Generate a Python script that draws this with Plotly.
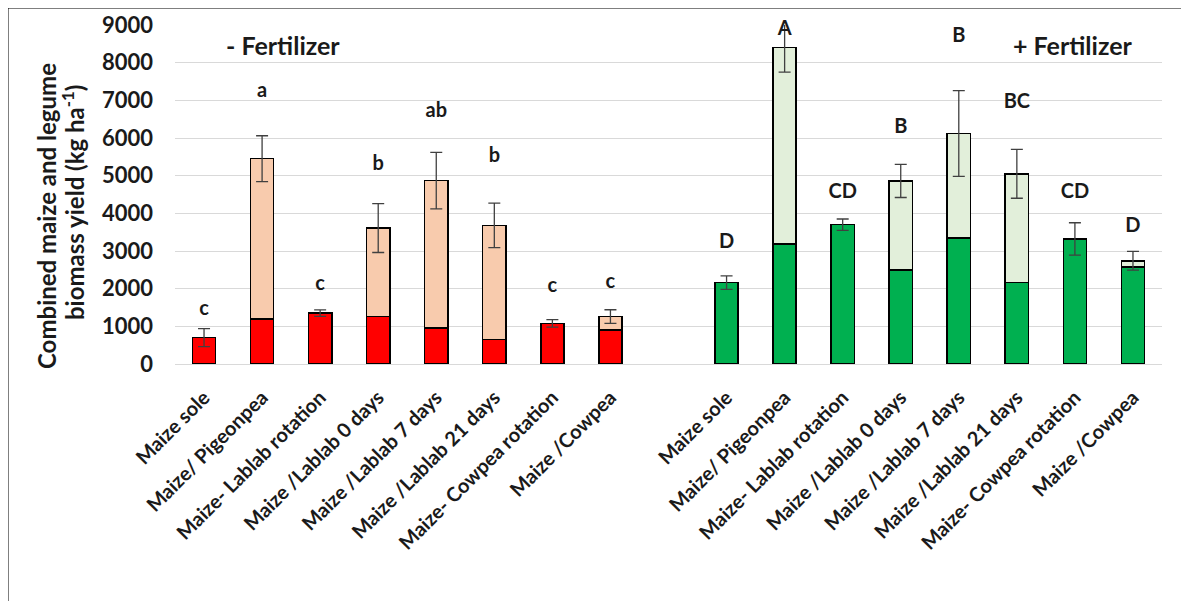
import plotly.graph_objects as go

treatments = ["Maize sole", "Maize/ Pigeonpea", "Maize- Lablab rotation", "Maize /Lablab 0 days",
              "Maize /Lablab 7 days", "Maize /Lablab 21 days", "Maize- Cowpea rotation", "Maize /Cowpea"]

# - Fertilizer
maize_nf = [700, 1190, 1350, 1260, 950, 650, 1080, 900]
legume_nf = [0, 4260, 0, 2350, 3920, 3030, 0, 360]
err_nf = [240, 610, 85, 650, 750, 590, 100, 180]
letters_nf = ["c", "a", "c", "b", "ab", "b", "c", "c"]
letter_y_nf = [1430, 7230, 2100, 5280, 6700, 5500, 2040, 2140]

# + Fertilizer
maize_f = [2160, 3180, 3700, 2500, 3350, 2160, 3320, 2580]
legume_f = [0, 5220, 0, 2360, 2770, 2890, 0, 160]
err_f = [180, 650, 150, 440, 1140, 650, 430, 250]
letters_f = ["D", "A", "CD", "B", "B", "BC", "CD", "D"]
letter_y_f = [3200, 8870, 4530, 6270, 8670, 6940, 4530, 3640]

y_ticks = [0, 1000, 2000, 3000, 4000, 5000, 6000, 7000, 8000, 9000]

x_nf = list(range(len(treatments)))
x_f = [len(treatments) + 1 + i for i in range(len(treatments))]

FONT = "Lato"
OFF = 8  # page body margin
W, H = 1189, 601
ML = 175 - OFF
MT = 25 - OFF
pw, ph = 987, 339
MR = W - ML - pw
MB = H - MT - ph


def px_x(p):
    return (p - OFF - ML) / pw


def px_y(p):
    return (MT + ph - (p - OFF)) / ph


fig = go.Figure()
bar_w = 0.4
line = dict(color="black", width=1.5)

fig.add_trace(go.Bar(x=x_nf, y=maize_nf, width=bar_w, marker=dict(color="#FF0000", line=line), showlegend=False))
fig.add_trace(go.Bar(x=x_nf, y=legume_nf, width=bar_w, marker=dict(color="#F8CBAD", line=line), showlegend=False))
fig.add_trace(go.Bar(x=x_f, y=maize_f, width=bar_w, marker=dict(color="#00B050", line=line), showlegend=False))
fig.add_trace(go.Bar(x=x_f, y=legume_f, width=bar_w, marker=dict(color="#E2EFDA", line=line), showlegend=False))

tot_nf = [m + l for m, l in zip(maize_nf, legume_nf)]
tot_f = [m + l for m, l in zip(maize_f, legume_f)]

for xs, ys, es in [(x_nf, tot_nf, err_nf), (x_f, tot_f, err_f)]:
    fig.add_trace(go.Scatter(
        x=xs, y=ys, mode="markers", marker=dict(size=1, color="rgba(0,0,0,0)"),
        error_y=dict(type="data", array=es, visible=True, color="#404040", thickness=1.3, width=6),
        cliponaxis=False, showlegend=False, hoverinfo="skip"))

for xs, ys, ts in [(x_nf, letter_y_nf, letters_nf), (x_f, letter_y_f, letters_f)]:
    fig.add_trace(go.Scatter(
        x=xs, y=ys, mode="text", text=ts,
        textfont=dict(family=FONT, size=20, color="#1a1a1a", weight="bold"),
        textposition="middle center", cliponaxis=False, showlegend=False, hoverinfo="skip"))

title_font = dict(family=FONT, size=24, weight="bold", color="#1a1a1a")

fig.update_layout(
    barmode="stack",
    width=W, height=H,
    margin=dict(l=ML, r=MR, t=MT, b=MB, pad=0, autoexpand=False),
    paper_bgcolor="white", plot_bgcolor="white",
    font=dict(family=FONT, color="#1a1a1a"),
    xaxis=dict(
        range=[-0.5, len(treatments) * 2 + 0.5], automargin=False,
        tickvals=x_nf + x_f, ticktext=treatments + treatments,
        tickangle=-45, tickfont=dict(family=FONT, size=20, weight="bold", color="#1a1a1a"),
        showgrid=False, zeroline=False, showline=False, ticks="", ticklabelstandoff=17,
    ),
    yaxis=dict(
        range=[0, 9000], tickvals=y_ticks, automargin=False,
        tickfont=dict(family=FONT, size=22, weight="bold", color="#1a1a1a"),
        showgrid=True, gridcolor="#D9D9D9", gridwidth=1.2,
        zeroline=True, zerolinecolor="#D9D9D9", zerolinewidth=1.2,
        showline=False, ticks="", ticklabelstandoff=21,
    ),
    annotations=[
        dict(text="Combined maize and legume",
             x=px_x(46), y=px_y(216), xref="paper", yref="paper", textangle=-90,
             showarrow=False, xanchor="center", yanchor="middle", font=title_font),
        dict(text="biomass yield (kg ha<sup>-1</sup>)",
             x=px_x(73), y=px_y(203), xref="paper", yref="paper", textangle=-90,
             showarrow=False, xanchor="center", yanchor="middle", font=title_font),
        dict(text="- Fertilizer", x=px_x(283), y=px_y(45), xref="paper", yref="paper",
             showarrow=False, xanchor="center", yanchor="middle",
             font=dict(family=FONT, size=25, weight="bold", color="#1a1a1a")),
        dict(text="+ Fertilizer", x=px_x(1073), y=px_y(45), xref="paper", yref="paper",
             showarrow=False, xanchor="center", yanchor="middle",
             font=dict(family=FONT, size=25, weight="bold", color="#1a1a1a")),
    ],
    shapes=[
        dict(type="line", xref="paper", yref="paper", x0=px_x(7.5), x1=px_x(1195), y0=px_y(7.5), y1=px_y(7.5),
             line=dict(color="black", width=2)),
        dict(type="line", xref="paper", yref="paper", x0=px_x(7.5), x1=px_x(7.5), y0=px_y(7.5), y1=px_y(610),
             line=dict(color="black", width=2)),
    ],
)

fig.write_html("out.html")
